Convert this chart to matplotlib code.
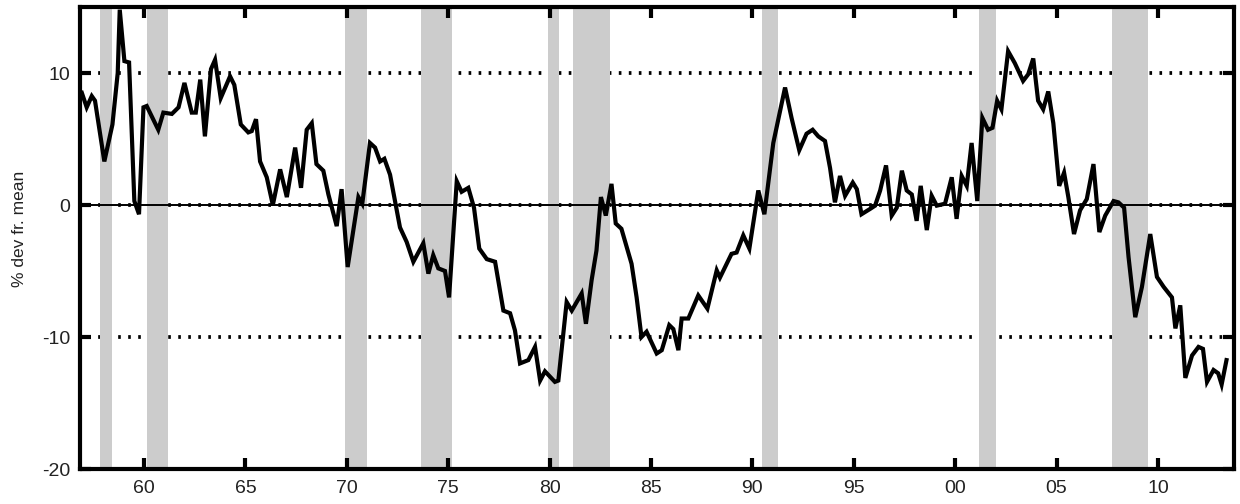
import matplotlib
matplotlib.use("Agg")
import matplotlib.pyplot as plt

# ---- data ----
years = [1956.93, 1957.17, 1957.42, 1957.58, 1958.04, 1958.44, 1958.70, 1958.80, 1959.03, 1959.26,
         1959.52, 1959.75, 1959.97, 1960.13, 1960.70, 1960.95, 1961.37, 1961.70, 1961.99, 1962.35,
         1962.55, 1962.77, 1963.00, 1963.30, 1963.50, 1963.78, 1964.24, 1964.45, 1964.77, 1965.14,
         1965.31, 1965.52, 1965.72, 1966.05, 1966.35, 1966.71, 1967.04, 1967.45, 1967.74, 1968.02,
         1968.27, 1968.50, 1968.84, 1969.09, 1969.50, 1969.74, 1970.04, 1970.57, 1970.76, 1971.14,
         1971.39, 1971.64, 1971.85, 1972.13, 1972.46, 1972.62, 1972.95, 1973.28, 1973.77, 1974.02,
         1974.26, 1974.51, 1974.84, 1975.04, 1975.42, 1975.66, 1975.99, 1976.27, 1976.53, 1976.90,
         1977.31, 1977.72, 1978.05, 1978.29, 1978.54, 1978.95, 1979.28, 1979.53, 1979.77, 1980.26,
         1980.43, 1980.84, 1981.09, 1981.58, 1981.79, 1982.07, 1982.31, 1982.53, 1982.77, 1983.05,
         1983.26, 1983.54, 1984.04, 1984.29, 1984.53, 1984.78, 1985.28, 1985.53, 1985.90, 1986.10,
         1986.35, 1986.51, 1986.84, 1987.33, 1987.78, 1988.24, 1988.40, 1988.97, 1989.22, 1989.55,
         1989.85, 1990.29, 1990.59, 1991.03, 1991.61, 1991.93, 1992.31, 1992.67, 1992.97, 1993.25,
         1993.58, 1993.83, 1994.07, 1994.32, 1994.57, 1994.95, 1995.15, 1995.38, 1995.80, 1996.05,
         1996.30, 1996.59, 1996.87, 1997.12, 1997.37, 1997.61, 1997.86, 1998.10, 1998.30, 1998.60,
         1998.84, 1999.09, 1999.50, 1999.83, 2000.07, 2000.32, 2000.57, 2000.81, 2001.09, 2001.34,
         2001.62, 2001.84, 2002.07, 2002.28, 2002.61, 2002.94, 2003.35, 2003.60, 2003.85, 2004.09,
         2004.34, 2004.59, 2004.84, 2005.13, 2005.37, 2005.58, 2005.86, 2006.16, 2006.49, 2006.82,
         2007.11, 2007.40, 2007.81, 2008.05, 2008.33, 2008.55, 2008.88, 2009.21, 2009.62, 2009.95,
         2010.28, 2010.69, 2010.86, 2011.10, 2011.35, 2011.68, 2012.00, 2012.22, 2012.42, 2012.74,
         2012.97, 2013.14, 2013.38]
values = [8.5, 7.4, 8.25, 7.9, 3.3, 6.1, 10.0, 14.8, 10.9, 10.8,
          0.3, -0.7, 7.4, 7.5, 5.7, 7.0, 6.9, 7.4, 9.25, 7.0,
          7.0, 9.5, 5.2, 10.3, 11.0, 8.1, 9.75, 9.1, 6.1, 5.5,
          5.6, 6.5, 3.3, 2.1, 0.0, 2.7, 0.6, 4.35, 1.3, 5.7,
          6.2, 3.1, 2.6, 0.8, -1.6, 1.2, -4.7, 0.6, 0.1, 4.7,
          4.35, 3.3, 3.5, 2.3, -0.4, -1.7, -2.8, -4.3, -2.9, -5.2,
          -3.8, -4.8, -5.0, -7.0, 1.8, 1.0, 1.3, -0.2, -3.3, -4.1,
          -4.3, -8.0, -8.2, -9.5, -12.0, -11.75, -10.75, -13.3, -12.6, -13.4,
          -13.3, -7.35, -8.0, -6.7, -9.0, -5.7, -3.45, 0.6, -0.8, 1.6,
          -1.4, -1.8, -4.45, -7.0, -10.0, -9.6, -11.25, -11.0, -9.1, -9.4,
          -11.0, -8.6, -8.6, -6.85, -7.85, -4.95, -5.5, -3.7, -3.6, -2.3,
          -3.3, 1.1, -0.7, 4.7, 8.9, 6.6, 4.15, 5.4, 5.7, 5.2,
          4.85, 2.8, 0.2, 2.2, 0.7, 1.7, 1.2, -0.7, -0.3, -0.05,
          1.1, 3.0, -0.8, -0.2, 2.6, 1.1, 0.8, -1.2, 1.45, -1.9,
          0.7, -0.05, 0.1, 2.1, -1.05, 2.2, 1.45, 4.7, 0.3, 6.6,
          5.7, 5.85, 7.9, 7.25, 11.65, 10.75, 9.4, 9.9, 11.1, 7.9,
          7.25, 8.6, 6.2, 1.45, 2.45, 0.6, -2.2, -0.4, 0.45, 3.1,
          -2.05, -0.8, 0.3, 0.2, -0.2, -3.95, -8.5, -6.2, -2.2, -5.45,
          -6.2, -7.0, -9.35, -7.6, -13.1, -11.4, -10.75, -10.9, -13.4, -12.5,
          -12.75, -13.6, -11.75]

recession_start = [1957.83, 1960.13, 1969.91, 1973.64, 1979.90, 1981.17, 1990.46, 2001.19, 2007.72]
recession_end = [1958.40, 1961.20, 1970.98, 1975.20, 1980.46, 1982.98, 1991.28, 2002.01, 2009.53]

xtick_pos = [1960, 1965, 1970, 1975, 1980, 1985, 1990, 1995, 2000, 2005, 2010]
xtick_labels = ["60", "65", "70", "75", "80", "85", "90", "95", "00", "05", "10"]
ytick_pos = [-20, -10, 0, 10]
ytick_labels = ["-20", "-10", "0", "10"]
grid_levels = [-10, 0, 10]

plt.rcParams['font.family'] = ['Liberation Sans', 'DejaVu Sans']

fig = plt.figure(figsize=(12.4, 5.04), dpi=100)
ax = fig.add_axes([80 / 1240, 1 - 469 / 504, 1154 / 1240, 462 / 504])

# dotted grid lines (under recession bands)
for g in grid_levels:
    ax.axhline(g, color='black', linewidth=2.7, linestyle=(0.5, (0.7, 1.97)), zorder=0.5,
               dash_capstyle='butt')

for s, e in zip(recession_start, recession_end):
    ax.axvspan(s, e, color='#cccccc', linewidth=0, zorder=1)

ax.axhline(0, color='black', linewidth=1.4, zorder=2)

ax.plot(years, values, color='black', linewidth=3.0, zorder=3, solid_joinstyle='miter')

ax.set_xlim(1956.84, 2013.75)
ax.set_ylim(-20, 15)

ax.set_xticks(xtick_pos)
ax.set_xticklabels(xtick_labels)
ax.set_yticks(ytick_pos)
ax.set_yticklabels(ytick_labels)

ax.tick_params(axis='both', direction='in', length=8, width=3, color='black',
               labelsize=14, labelcolor='#222222', top=True, right=True)
ax.tick_params(axis='x', pad=8)
ax.tick_params(axis='y', pad=7)

for sp in ax.spines.values():
    sp.set_linewidth(3)
    sp.set_zorder(5)

ax.set_ylabel("% dev fr. mean", fontsize=12.5, color='#222222')
ax.yaxis.set_label_coords(-0.046, 0.52)

fig.savefig("out.png", dpi=100)
